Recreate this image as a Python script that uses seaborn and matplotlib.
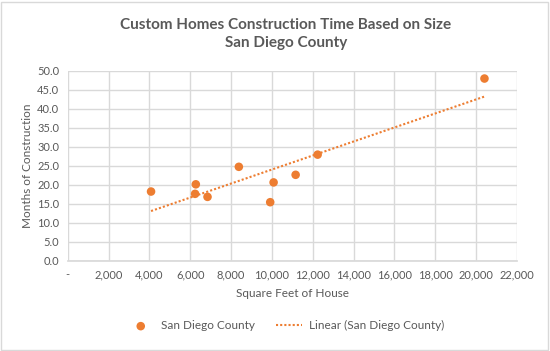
import matplotlib
matplotlib.use('Agg')
import matplotlib.pyplot as plt
import numpy   as np
import pandas  as pd
import seaborn as sns
from matplotlib.ticker import FuncFormatter, MultipleLocator
from matplotlib.patches import Rectangle

# Data
square_feet = [4083, 6275, 6240, 6848, 8382, 10083, 9917, 11162, 12240, 20407]
months      = [18.2, 20.1, 17.6, 16.8, 24.7, 20.6, 15.4, 22.6, 27.9, 47.9]
series_name = 'San Diego County'
trend_name  = 'Linear (San Diego County)'

df = pd.DataFrame({'sqft': square_feet, 'months': months})

ORANGE = '#ED7D31'
GRAY   = '#595959'
GRID   = '#D9D9D9'

sns.set_theme(style='white')
plt.rcParams['font.family'] = ['Lato', 'DejaVu Sans']

fig = plt.figure(figsize=(5.5, 3.51), dpi=100)
ax = fig.add_axes([0.123, 0.257, 0.817, 0.542])

# Scatter points and the linear trendline
sns.scatterplot(data=df, x='sqft', y='months', ax=ax, color=ORANGE,
                s=38, edgecolor='none', label=series_name, zorder=3)
sns.regplot(data=df, x='sqft', y='months', ax=ax, scatter=False, ci=None,
            truncate=True, color=ORANGE, label=trend_name,
            line_kws={'linestyle': (0, (1, 1)), 'linewidth': 1.5})

ax.set_xlim(0, 22000)
ax.set_ylim(0, 50)
ax.xaxis.set_major_locator(MultipleLocator(2000))
ax.yaxis.set_major_locator(MultipleLocator(5))
ax.xaxis.set_major_formatter(FuncFormatter(lambda v, p: '-' if v == 0 else f'{v:,.0f}'))
ax.yaxis.set_major_formatter(FuncFormatter(lambda v, p: f'{v:.1f}'))
ax.grid(True, color=GRID, linewidth=1)
ax.set_axisbelow(True)
for side in ['top', 'right', 'left']:
    ax.spines[side].set_visible(False)
ax.spines['bottom'].set_color(GRID)
ax.tick_params(axis='both', colors=GRAY, labelsize=8, length=0, pad=6)

ax.set_xlabel('Square Feet of House', color=GRAY, fontsize=8.5, labelpad=6)
ax.set_ylabel('Months of Construction', color=GRAY, fontsize=8.5, labelpad=3)

fig.suptitle('Custom Homes Construction Time Based on Size\nSan Diego County',
             x=0.52, y=0.95, color=GRAY, fontsize=11, fontweight='bold',
             linespacing=1.45)

handles, labels = ax.get_legend_handles_labels()
if ax.get_legend():
    ax.get_legend().remove()
fig.legend(handles, labels, loc='center', bbox_to_anchor=(0.52, 0.072), ncol=2,
           frameon=False, fontsize=8.5, labelcolor=GRAY, columnspacing=1.8,
           handlelength=2.2, handletextpad=0.6)

fig.patches.append(Rectangle((0.002, 0.003), 0.994, 0.992, transform=fig.transFigure,
                             fill=False, edgecolor=GRID, linewidth=1))

fig.savefig('out.png', dpi=100)
